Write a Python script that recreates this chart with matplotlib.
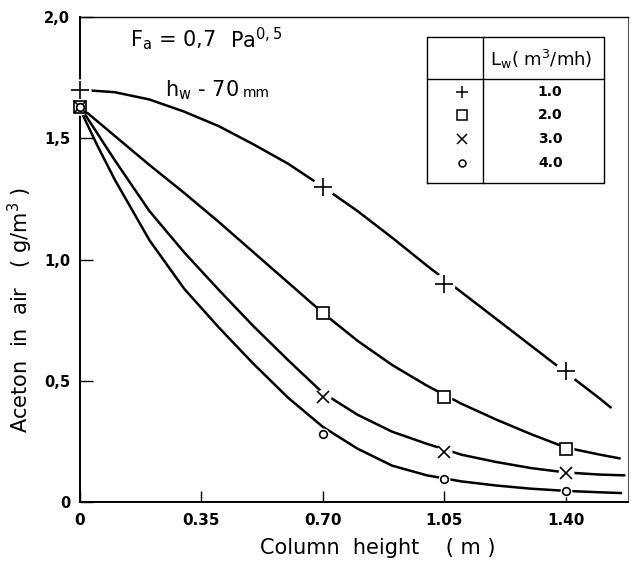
import numpy as np
import matplotlib
matplotlib.use('Agg')
import matplotlib.pyplot as plt
from matplotlib.lines import Line2D

plt.rcParams['font.family'] = ['DejaVu Sans']
plt.rcParams['mathtext.fontset'] = 'dejavusans'

# measured points (column height in m, aceton in g/m3)
x_meas = [0.0, 0.70, 1.05, 1.40]
plus_y = [1.70, 1.30, 0.90, 0.54]
square_y = [1.63, 0.78, 0.435, 0.218]
cross_y = [1.63, 0.433, 0.208, 0.12]
circle_y = [1.63, 0.281, 0.094, 0.045]

# hand drawn curves
plus_cx = [0, 0.1, 0.2, 0.3, 0.4, 0.5, 0.6, 0.7, 0.8, 0.9, 1.0, 1.1, 1.2, 1.3, 1.4, 1.5, 1.53]
plus_cy = [1.70, 1.69, 1.66, 1.61, 1.55, 1.475, 1.395, 1.30, 1.20, 1.09, 0.975, 0.865, 0.755, 0.645, 0.535, 0.425, 0.39]
square_cx = [0, 0.1, 0.2, 0.3, 0.4, 0.5, 0.6, 0.7, 0.8, 0.9, 1.0, 1.1, 1.2, 1.3, 1.4, 1.5, 1.556]
square_cy = [1.63, 1.51, 1.39, 1.275, 1.155, 1.03, 0.905, 0.78, 0.665, 0.565, 0.48, 0.405, 0.34, 0.28, 0.225, 0.195, 0.18]
cross_cx = [0, 0.1, 0.2, 0.3, 0.4, 0.5, 0.6, 0.7, 0.8, 0.9, 1.0, 1.1, 1.2, 1.3, 1.4, 1.5, 1.57]
cross_cy = [1.63, 1.41, 1.20, 1.03, 0.875, 0.725, 0.585, 0.45, 0.36, 0.29, 0.24, 0.195, 0.165, 0.14, 0.122, 0.113, 0.11]
circle_cx = [0, 0.05, 0.1, 0.2, 0.3, 0.4, 0.5, 0.6, 0.7, 0.8, 0.9, 1.0, 1.1, 1.2, 1.3, 1.4, 1.5, 1.56]
circle_cy = [1.62, 1.47, 1.33, 1.08, 0.88, 0.72, 0.57, 0.43, 0.31, 0.22, 0.15, 0.11, 0.085, 0.068, 0.055, 0.046, 0.04, 0.037]

lw_labels = ['1.0', '2.0', '3.0', '4.0']
x_ticks = [0, 0.35, 0.70, 1.05, 1.40]
x_ticklabels = ['0', '0.35', '0.70', '1.05', '1.40']
y_ticks = [0, 0.5, 1.0, 1.5, 2.0]
y_ticklabels = ['0', '0,5', '1,0', '1,5', '2,0']

series = [
    (plus_cx, plus_cy, plus_y, '+', 13, 1.2),
    (square_cx, square_cy, square_y, 's', 8.5, 1.2),
    (cross_cx, cross_cy, cross_y, 'x', 8.5, 1.2),
    (circle_cx, circle_cy, circle_y, 'o', 5.5, 1.2),
]

fig = plt.figure(figsize=(6.31, 5.71), dpi=100)
ax = fig.add_axes([0.1268, 0.1208, 0.8685, 0.8494])

for cx, cy, my, mk, ms, mew in series:
    ax.plot(cx, cy, color='black', lw=1.8, solid_capstyle='round', zorder=2)
    # white gap round each marker, like the ink drawing
    ax.plot(x_meas, my, ls='none', marker='o', ms=ms + 3, mfc='white', mec='none',
            zorder=3, clip_on=False)
    ax.plot(x_meas, my, ls='none', marker=mk, ms=ms, mfc='white', mec='black',
            mew=mew, zorder=4, clip_on=False)

ax.set_xlim(0, 1.58)
ax.set_ylim(0, 2.0)
ax.set_xticks(x_ticks)
ax.set_xticklabels(x_ticklabels, fontsize=11, fontweight='bold')
ax.set_yticks(y_ticks)
ax.set_yticklabels(y_ticklabels, fontsize=10.5, fontweight='bold')
ax.tick_params(axis='x', direction='in', length=8, width=1.0, pad=8, top=False)
ax.tick_params(axis='y', direction='in', length=9, width=1.0, pad=7, right=False)

for s in ['left', 'bottom']:
    ax.spines[s].set_linewidth(1.4)
ax.spines['top'].set_linewidth(1.0)
ax.spines['right'].set_linewidth(0.8)
ax.spines['right'].set_linestyle((0, (2, 1)))
ax.spines['right'].set_color('#555555')

ax.set_xlabel('Column  height    ( m )', fontsize=15)
ax.xaxis.set_label_coords(0.544, -0.074)
ax.set_ylabel('Aceton  in  air   ( g/m$^\\mathregular{3}$ )', fontsize=15)
ax.yaxis.set_label_coords(-0.082, 0.396)

# parameter notes
ax.text(0.091, 0.953, '$\\mathregular{F_a}$ = 0,7', transform=ax.transAxes,
        fontsize=15, va='center', ha='left')
ax.text(0.274, 0.953, 'Pa$^\\mathregular{0,5}$', transform=ax.transAxes,
        fontsize=15, va='center', ha='left')
ax.text(0.155, 0.849, '$\\mathregular{h_w}$ - 70', transform=ax.transAxes,
        fontsize=15, va='center', ha='left')
ax.text(0.297, 0.843, 'mm', transform=ax.transAxes,
        fontsize=10, va='center', ha='left')

# legend drawn as a small table
tx0, tx1, txd = 0.633, 0.956, 0.735
ty0, ty1, tyd = 0.658, 0.959, 0.872
tl = dict(color='black', lw=1.0, transform=ax.transAxes, zorder=5)
ax.add_line(Line2D([tx0, tx1, tx1, tx0, tx0], [ty0, ty0, ty1, ty1, ty0], **tl))
ax.add_line(Line2D([txd, txd], [ty0, ty1], **tl))
ax.add_line(Line2D([tx0, tx1], [tyd, tyd], **tl))
ax.text(0.842, 0.913, 'L$_\\mathregular{w}$( m$^\\mathregular{3}$/mh)', transform=ax.transAxes,
        fontsize=13, ha='center', va='center')
row_y = [0.845, 0.797, 0.748, 0.700]
leg_ms = [9, 7, 7, 5]
for (cx, cy, my, mk, ms, mew), lab, ry, lms in zip(series, lw_labels, row_y, leg_ms):
    ax.plot([0.697], [ry], transform=ax.transAxes, ls='none', marker=mk, ms=lms,
            mfc='white', mec='black', mew=1.1, zorder=6, clip_on=False)
    ax.text(0.858, ry, lab, transform=ax.transAxes, fontsize=10, fontweight='bold',
            ha='center', va='center')

fig.savefig('out.png', dpi=100)
